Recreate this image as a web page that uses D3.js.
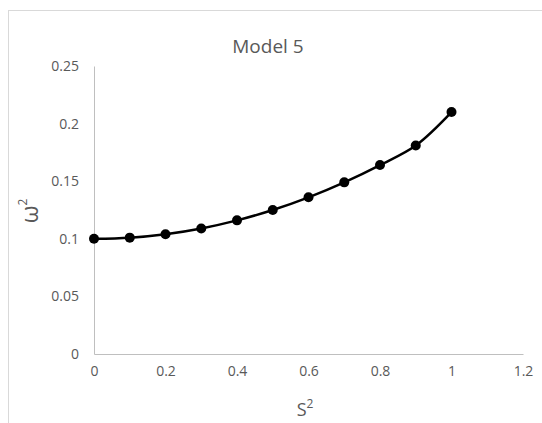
<!DOCTYPE html>
<html>
<head>
<meta charset="utf-8">
<script src="https://cdn.jsdelivr.net/npm/d3@7"></script>
<style>
  body { margin: 0; background: #fff; }
  text { font-family: "Open Sans", sans-serif; fill: #595959; }
</style>
</head>
<body>
<div id="chart-area"></div>
<script>
const sValues = [0, 0.1, 0.2, 0.3, 0.4, 0.5, 0.6, 0.7, 0.8, 0.9, 1];
const omegaValues = [0.1, 0.101, 0.104, 0.109, 0.116, 0.125, 0.136, 0.149, 0.164, 0.181, 0.21];
const xTicks = [0, 0.2, 0.4, 0.6, 0.8, 1, 1.2];
const yTicks = [0, 0.05, 0.1, 0.15, 0.2, 0.25];

const margin = { left: 94, top: 66, right: 19, bottom: 69 },
    W = 542, H = 423,
    width = W - margin.left - margin.right,
    height = H - margin.top - margin.bottom;

const svg = d3.select("#chart-area").append("svg")
    .attr("width", W).attr("height", H);

// chart frame (cropped at right/bottom)
svg.append("rect")
    .attr("x", 8.5).attr("y", 10.5)
    .attr("width", 600).attr("height", 500)
    .attr("fill", "none").attr("stroke", "#d9d9d9");

const g = svg.append("g").attr("transform", `translate(${margin.left}, ${margin.top})`);

const x = d3.scaleLinear().domain([0, 1.2]).range([0, width]);
const y = d3.scaleLinear().domain([0, 0.25]).range([height, 0]);

const xAxis = g.append("g")
    .attr("transform", `translate(0, ${height})`)
    .call(d3.axisBottom(x).tickValues(xTicks).tickSize(0).tickPadding(12).tickFormat(d3.format("")));
const yAxis = g.append("g")
    .call(d3.axisLeft(y).tickValues(yTicks).tickSize(0).tickPadding(15).tickFormat(d3.format("")));

[xAxis, yAxis].forEach(a => {
    a.select(".domain").attr("stroke", "#bfbfbf").attr("stroke-width", 1);
    a.selectAll("text").attr("font-size", "14px").attr("fill", "#595959")
        .attr("font-family", "'Open Sans', sans-serif");
});

const line = d3.line()
    .x((d, i) => x(sValues[i]))
    .y(d => y(d))
    .curve(d3.curveCatmullRom);

g.append("path")
    .attr("d", line(omegaValues))
    .attr("fill", "none")
    .attr("stroke", "#000")
    .attr("stroke-width", 2.5);

g.selectAll("circle").data(omegaValues).enter().append("circle")
    .attr("cx", (d, i) => x(sValues[i]))
    .attr("cy", d => y(d))
    .attr("r", 5)
    .attr("fill", "#000");

// title
svg.append("text")
    .attr("x", 268).attr("y", 53)
    .attr("text-anchor", "middle")
    .attr("font-size", "19px")
    .text("Model 5");

// x label
const xl = svg.append("text")
    .attr("x", 305).attr("y", 416)
    .attr("text-anchor", "middle")
    .attr("font-size", "18px");
xl.append("tspan").text("S");
xl.append("tspan").attr("dy", -8).attr("font-size", "12px").text("2");

// y label
const yl = svg.append("text")
    .attr("transform", "translate(38, 211) rotate(-90)")
    .attr("text-anchor", "middle")
    .attr("font-size", "23px");
yl.append("tspan").text("ω");
yl.append("tspan").attr("dy", -11).attr("font-size", "12px").text("2");
</script>
</body>
</html>
